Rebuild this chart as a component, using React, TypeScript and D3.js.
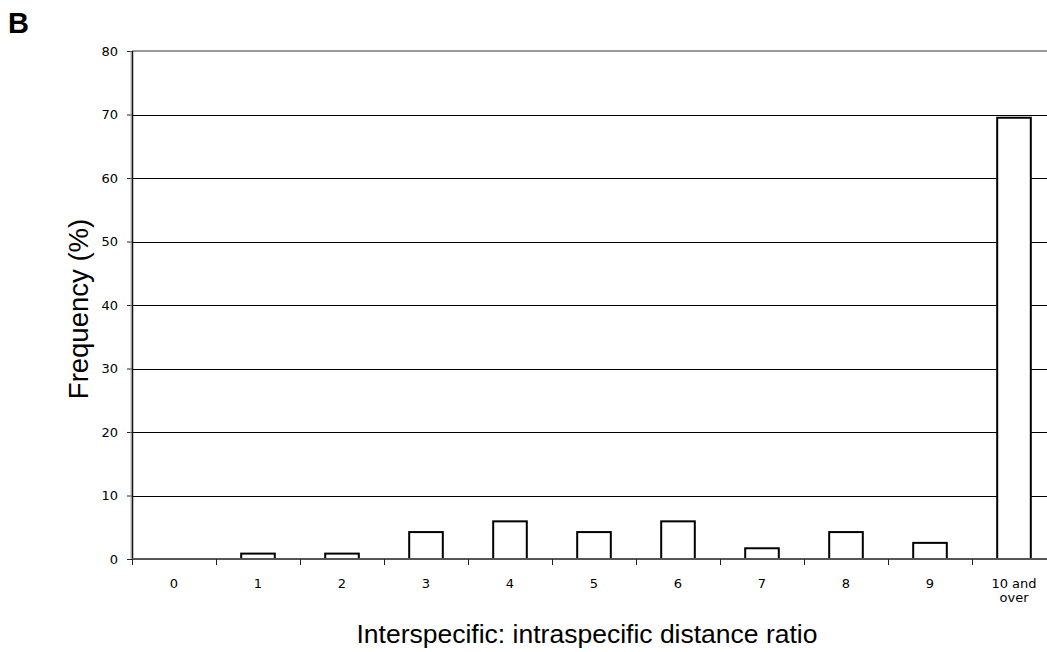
import { useEffect, useRef } from 'react';
import * as d3 from 'd3';

const CATEGORIES = ['0', '1', '2', '3', '4', '5', '6', '7', '8', '9', '10 and over'];
const FREQUENCY = [0, 0.85, 0.85, 4.24, 5.93, 4.24, 5.93, 1.69, 4.24, 2.54, 69.49];
const Y_TICKS = [0, 10, 20, 30, 40, 50, 60, 70, 80];

const W = 1047;
const H = 652;
const PLOT = { left: 132, right: 1056, top: 51, bottom: 559 };

export default function App() {
  const svgRef = useRef<SVGSVGElement>(null);

  useEffect(() => {
    if (!svgRef.current) return;
    const svg = d3.select(svgRef.current);
    svg.selectAll('*').remove();

    const x = d3.scaleBand<string>().domain(CATEGORIES).range([PLOT.left, PLOT.right]).padding(0);
    const y = d3.scaleLinear().domain([0, 80]).range([PLOT.bottom, PLOT.top]);
    const step = x.bandwidth();
    const sans = 'Liberation Sans, Arial, sans-serif';
    const tickFont = 'DejaVu Sans, Verdana, sans-serif';

    // panel letter
    svg.append('text')
      .attr('x', 8).attr('y', 33)
      .attr('font-family', sans)
      .attr('font-weight', 'bold').attr('font-size', 29)
      .text('B');

    // ── gridlines ──────────────────────────────────────────
    svg.append('g')
      .selectAll('line')
      .data(Y_TICKS.filter(t => t > 0 && t < 80))
      .join('line')
      .attr('x1', PLOT.left).attr('x2', W)
      .attr('y1', d => Math.round(y(d)) + 0.5).attr('y2', d => Math.round(y(d)) + 0.5)
      .attr('stroke', '#000').attr('stroke-width', 1);

    // top border
    svg.append('line')
      .attr('x1', PLOT.left).attr('x2', W)
      .attr('y1', y(80)).attr('y2', y(80))
      .attr('stroke', '#999').attr('stroke-width', 2);

    // ── bars ───────────────────────────────────────────────
    svg.append('g')
      .selectAll('rect')
      .data(CATEGORIES.map((c, i) => ({ c, v: FREQUENCY[i] })).filter(d => d.v > 0))
      .join('rect')
      .attr('x', d => x(d.c)! + step * 0.3)
      .attr('width', step * 0.4)
      .attr('y', d => y(d.v))
      .attr('height', d => y(0) - y(d.v))
      .attr('fill', '#fff')
      .attr('stroke', '#000')
      .attr('stroke-width', 2);

    // ── y axis ─────────────────────────────────────────────
    const yAxis = svg.append('g')
      .attr('transform', `translate(${PLOT.left},0)`)
      .call(d3.axisLeft(y).tickValues(Y_TICKS).tickSize(5).tickPadding(9).tickFormat(d3.format('d')));
    yAxis.select('.domain').remove();
    yAxis.selectAll('.tick line').attr('stroke', '#222');
    yAxis.selectAll('text').attr('font-family', tickFont).attr('font-size', 13).attr('fill', '#000');
    yAxis.append('line')
      .attr('x1', -1).attr('x2', -1).attr('y1', PLOT.top).attr('y2', PLOT.bottom)
      .attr('stroke', '#aaa').attr('stroke-width', 1);
    yAxis.append('line')
      .attr('x1', 0.5).attr('x2', 0.5).attr('y1', PLOT.top).attr('y2', PLOT.bottom)
      .attr('stroke', '#111').attr('stroke-width', 1.5);

    // ── x axis ─────────────────────────────────────────────
    const xAxis = svg.append('g')
      .attr('transform', `translate(0,${PLOT.bottom})`);
    xAxis.append('line')
      .attr('x1', PLOT.left).attr('x2', W)
      .attr('y1', 0).attr('y2', 0)
      .attr('stroke', '#555').attr('stroke-width', 2);
    xAxis.selectAll('line.tick')
      .data(CATEGORIES)
      .join('line')
      .attr('class', 'tick')
      .attr('x1', d => x(d)! + 0.5).attr('x2', d => x(d)! + 0.5)
      .attr('y1', 0).attr('y2', 6)
      .attr('stroke', '#222');
    const labels = xAxis.selectAll('text')
      .data(CATEGORIES)
      .join('text')
      .attr('x', d => x(d)! + step / 2)
      .attr('y', 29)
      .attr('text-anchor', 'middle')
      .attr('font-family', tickFont)
      .attr('font-size', 13)
      .attr('fill', '#000');
    labels.each(function (d) {
      const words = d === '10 and over' ? ['10 and', 'over'] : [d];
      const t = d3.select(this);
      words.forEach((w, i) => {
        t.append('tspan').attr('x', x(d)! + step / 2).attr('dy', i === 0 ? 0 : 14).text(w);
      });
    });

    // ── axis titles ────────────────────────────────────────
    svg.append('text')
      .attr('x', 587).attr('y', 643)
      .attr('text-anchor', 'middle')
      .attr('font-family', sans)
      .attr('font-size', 26.5)
      .text('Interspecific: intraspecific distance ratio');

    svg.append('text')
      .attr('transform', `translate(88,309) rotate(-90)`)
      .attr('text-anchor', 'middle')
      .attr('font-family', sans)
      .attr('font-size', 27.5)
      .text('Frequency (%)');
  }, []);

  return (
    <svg
      ref={svgRef}
      width={W}
      height={H}
      style={{ position: 'absolute', left: 0, top: 0, background: '#fff' }}
    />
  );
}
